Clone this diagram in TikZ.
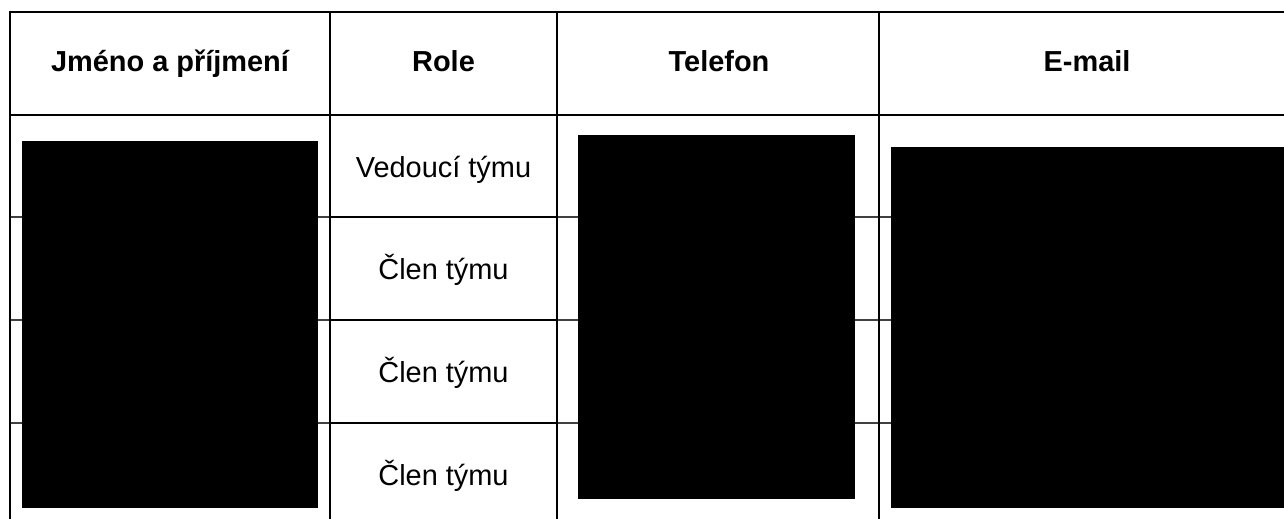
\documentclass[tikz,border=0pt]{standalone}
\usepackage{fontspec}
\setmainfont{Liberation Sans}
\tikzset{
  grid/.style={line width=1.5pt,line cap=rect},
  faint/.style={line width=0.8pt,black!75},
  hidden/.style={fill=black},
  headtext/.style={anchor=base,font=\fontsize{21.7}{26}\selectfont\bfseries},
  celltext/.style={anchor=base,font=\fontsize{21.7}{26}\selectfont}
}

\begin{document}
\begin{tikzpicture}[x=0.75pt,y=-0.75pt]
\useasboundingbox (0,0) rectangle (1284,518);
\clip (0,0) rectangle (1284,518);
\draw[faint] (10,217) -- (330,217);
\draw[faint] (10,320) -- (330,320);
\draw[faint] (10,423) -- (330,423);
\draw[faint] (557,217) -- (1300,217);
\draw[faint] (557,320) -- (1300,320);
\draw[faint] (557,423) -- (1300,423);
\draw[grid] (330,217) -- (557,217);
\draw[grid] (330,320) -- (557,320);
\draw[grid] (330,423) -- (557,423);
\draw[grid] (10,12) -- (1300,12);
\draw[grid] (10,115) -- (1300,115);
\draw[grid] (10,12) -- (10,530);
\draw[grid] (330,12) -- (330,530);
\draw[grid] (557,12) -- (557,530);
\draw[grid] (879,12) -- (879,530);
\node[headtext] (hname) at (170,71.5) {Jméno a příjmení};
\node[headtext] (hrole) at (443.5,71.5) {Role};
\node[headtext] (hphone) at (719,71.5) {Telefon};
\node[headtext] (hmail) at (1087,71.5) {E-mail};
\node[celltext] (role1) at (443.5,177) {Vedoucí týmu};
\node[celltext] (role2) at (443.5,279.5) {Člen týmu};
\node[celltext] (role3) at (443.5,382.5) {Člen týmu};
\node[celltext] (role4) at (443.5,485.5) {Člen týmu};
\fill[hidden] (21.5,141) rectangle (318,508);
\fill[hidden] (578,135) rectangle (855,499);
\fill[hidden] (891,146.5) rectangle (1290,508);
\end{tikzpicture}
\end{document}
